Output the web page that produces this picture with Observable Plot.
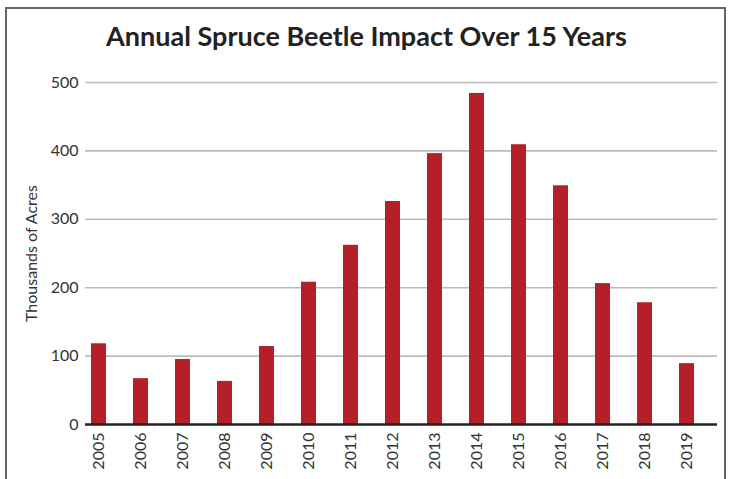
<!DOCTYPE html>
<html>
<head>
<meta charset="utf-8">
<script src="https://cdn.jsdelivr.net/npm/d3@7"></script>
<script src="https://cdn.jsdelivr.net/npm/@observablehq/plot@0.6"></script>
<style>
  html, body { margin: 0; padding: 0; background: #fff; overflow: hidden; }
  #wrap { position: relative; width: 733px; height: 479px; }
  #frame { position: absolute; left: 5px; top: 7px; width: 721px; height: 520px; border: 2px solid #666; box-sizing: border-box; }
  #title { position: absolute; left: 0; top: 19px; width: 733px; text-align: center;
           font-family: Lato, sans-serif; font-weight: 700; font-size: 27px; color: #222; }
  #chart { position: absolute; left: 0; top: 0; }
</style>
</head>
<body>
<div id="wrap">
  <div id="frame"></div>
  <div id="chart"></div>
  <div id="title">Annual Spruce Beetle Impact Over 15 Years</div>
</div>
<script>
const years = ["2005","2006","2007","2008","2009","2010","2011","2012","2013","2014","2015","2016","2017","2018","2019"];
const acres = [118, 67, 95, 63, 114, 208, 262, 326, 396, 484, 409, 349, 206, 178, 89];
const yTicks = [0, 100, 200, 300, 400, 500];
const yLabel = "Thousands of Acres";

const data = years.map((y, i) => ({year: y, value: acres[i]}));

const chart = Plot.plot({
  width: 733,
  height: 479,
  marginTop: 82,
  marginBottom: 55,
  marginLeft: 85,
  marginRight: 16,
  style: {fontFamily: "Lato, sans-serif", fontSize: "16px", color: "#333", background: "transparent"},
  x: {domain: years, paddingInner: 0.643, paddingOuter: 0.345, align: 0.207, round: false, label: null},
  y: {domain: [0, 500], label: null},
  marks: [
    Plot.ruleY(yTicks.filter(d => d > 0), {stroke: "#bbb", strokeWidth: 1.6}),
    Plot.barY(data, {x: "year", y: "value", fill: "#b41f28"}),
    Plot.ruleY([0], {stroke: "#222", strokeWidth: 2.5}),
    Plot.axisY(yTicks, {tickSize: 0, tickPadding: 7, label: null, fontSize: 16}),
    Plot.axisX({tickSize: 0, tickPadding: 8, tickRotate: -90, label: null, fontSize: 16}),
    Plot.text([yLabel], {frameAnchor: "left", dx: -54, rotate: -90, textAnchor: "middle", fontSize: 16, fill: "#333", y: [250]})
  ]
});
document.getElementById("chart").appendChild(chart);
</script>
</body>
</html>
